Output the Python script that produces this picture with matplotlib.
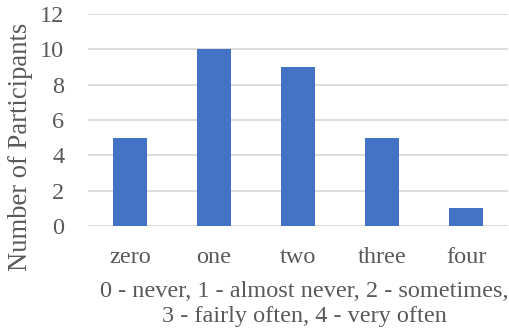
import matplotlib
matplotlib.use("Agg")
import matplotlib.pyplot as plt

categories = ["zero", "one", "two", "three", "four"]
counts = [5, 10, 9, 5, 1]
y_ticks = [0, 2, 4, 6, 8, 10, 12]
x_title = "0 - never, 1 - almost never, 2 - sometimes,\n3 - fairly often, 4 - very often"
y_title = "Number of Participants"

plt.rcParams["font.family"] = ["Liberation Serif", "DejaVu Serif"]
text_color = "#595959"
fs = 17.5

W, H = 509, 333
fig = plt.figure(figsize=(W / 100, H / 100), dpi=100)
ax = fig.add_axes([88 / W, 1 - 226 / H, 420 / W, 212 / H])

x = list(range(len(categories)))
ax.bar(x, counts, width=0.4, color="#4472C4", zorder=3)
ax.set_xlim(-0.5, len(categories) - 0.5)
ax.set_ylim(0, 12)
ax.set_yticks(y_ticks)
ax.set_yticklabels([str(t) for t in y_ticks])
ax.set_xticks(x)
ax.set_xticklabels(categories)
ax.tick_params(axis="both", length=0, labelsize=fs, colors=text_color)
ax.tick_params(axis="y", pad=17)
ax.tick_params(axis="x", pad=15)
ax.grid(axis="y", color="#D9D9D9", linewidth=1.3, zorder=0)
for s in ax.spines.values():
    s.set_visible(False)

# Axis titles placed in figure coordinates
fig.text(21 / W, 1 - 147 / H, y_title, rotation=90, ha="center", va="center",
         fontsize=19.2, color=text_color)
fig.text(304 / W, 1 - 304 / H, x_title, ha="center", va="center",
         fontsize=fs, color=text_color, linespacing=1.3)

fig.savefig("out.png", dpi=100)
